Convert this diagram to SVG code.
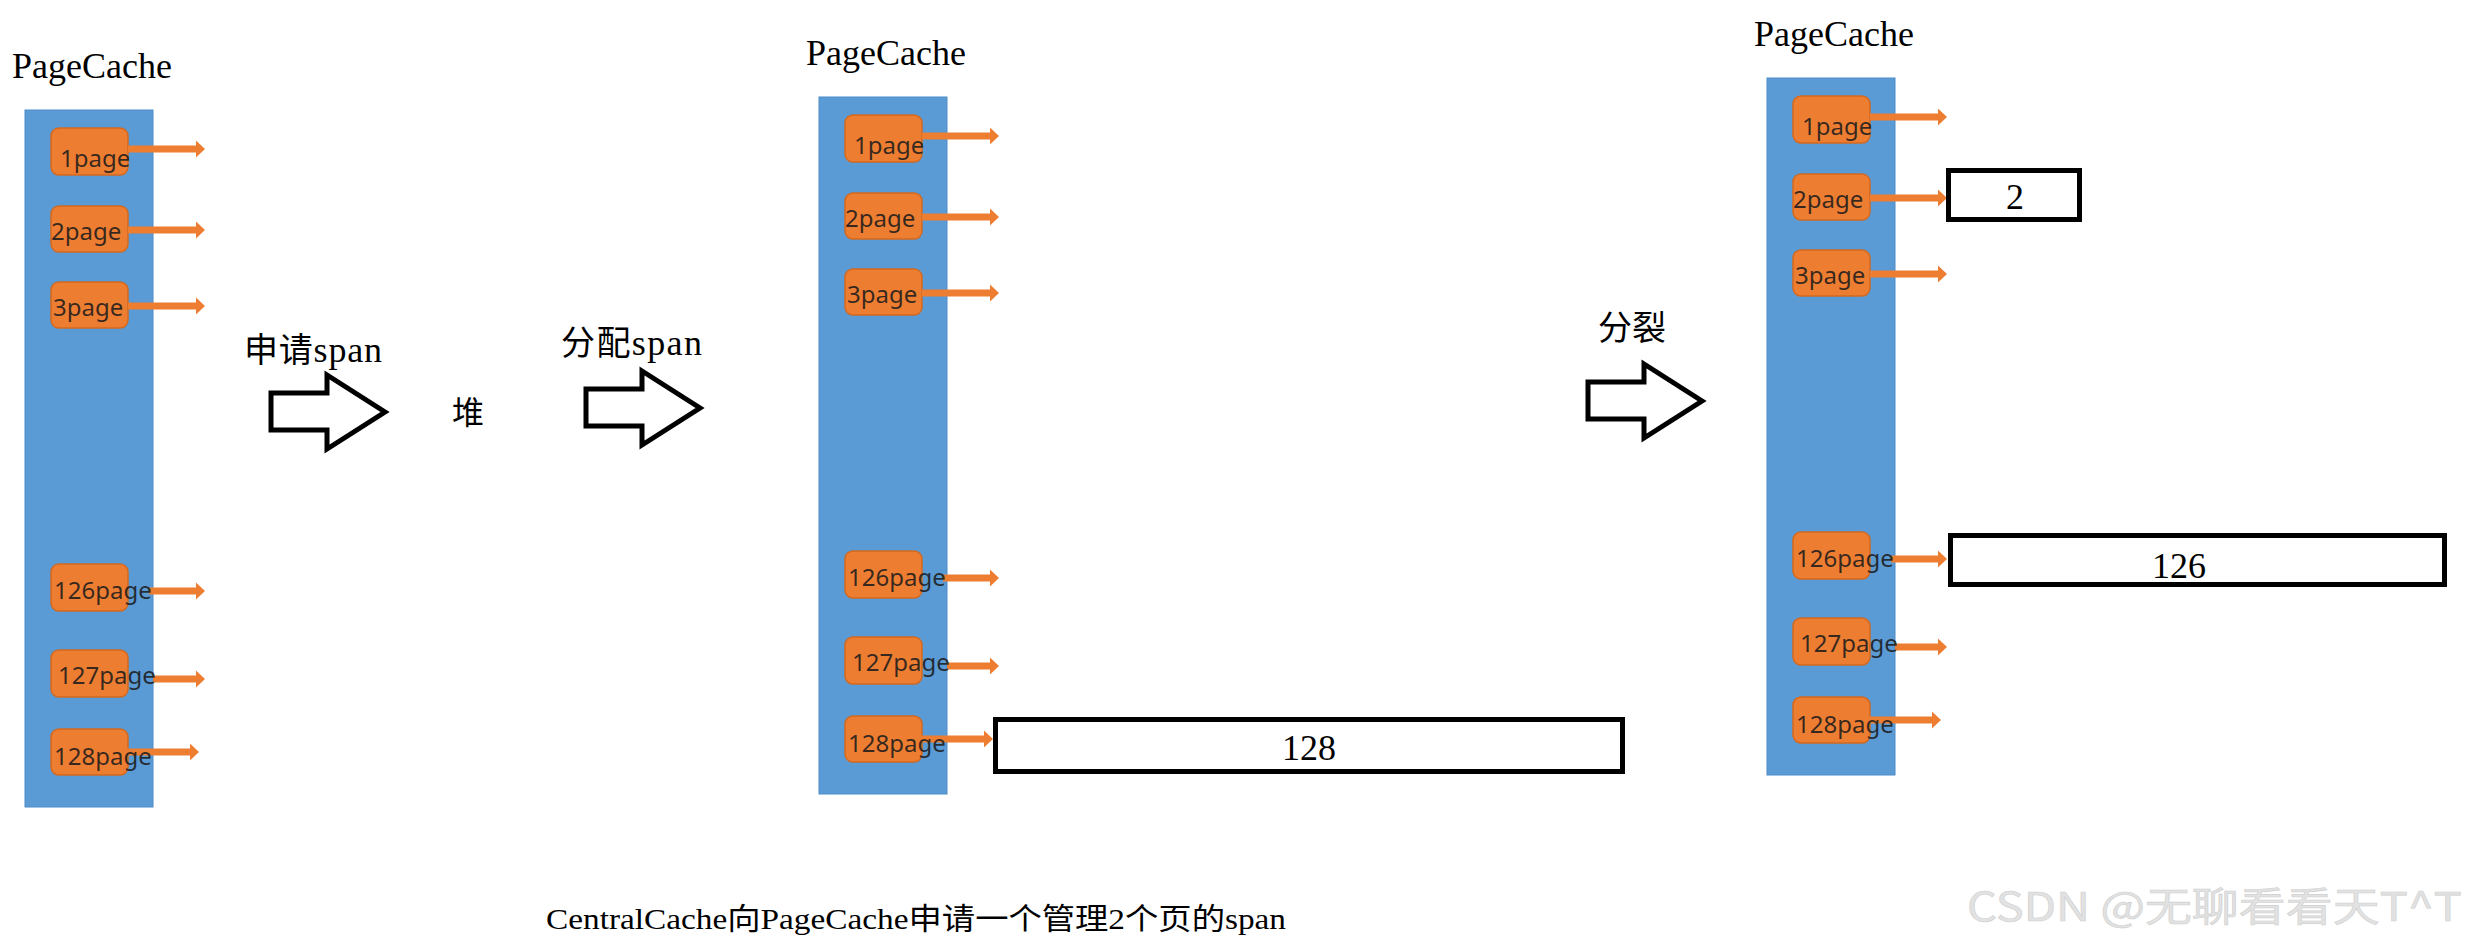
<svg xmlns="http://www.w3.org/2000/svg" xmlns:xlink="http://www.w3.org/1999/xlink" width="2467" height="947" viewBox="0 0 2467 947">
<style>
.title{font-family:"Liberation Serif","Noto Sans CJK SC",serif;font-size:36px;fill:#000}
.lbl{font-family:"Liberation Serif","Noto Sans CJK SC",serif;font-size:34px;fill:#000}
.col{fill:#5B9BD5;stroke:#4F8CC6;stroke-width:1}
.box{fill:#ED7D31;stroke:#D2691F;stroke-width:1.5}
.pt{font-family:"Noto Sans","Open Sans",sans-serif;font-size:24px;fill:#1c1c1c;fill-opacity:0.88}
.oa{stroke:#ED7D31;stroke-width:7;fill:none;marker-end:url(#oh)}
.span{fill:#fff;stroke:#000;stroke-width:5}
.num{font-family:"Liberation Serif",serif;font-size:36px;fill:#000;text-anchor:middle}
.big{fill:#fff;stroke:#000;stroke-width:5;stroke-linejoin:miter}
</style>
<defs>
<marker id="oh" markerUnits="userSpaceOnUse" markerWidth="10" markerHeight="18" viewBox="0 -9 10 18" refX="0" refY="0" orient="auto" overflow="visible">
<path d="M0,-8.5 L9,0 L0,8.5 Z" fill="#ED7D31"/>
</marker>
<path id="bigArrow" d="M0,18 L56,18 L56,0 L114,37 L56,74 L56,55 L0,55 Z"/>
<g id="column">
<rect class="col" x="25" y="110" width="128" height="697"/>
<rect class="box" x="51" y="128" width="77" height="47" rx="8"/>
<rect class="box" x="51" y="206" width="77" height="46" rx="8"/>
<rect class="box" x="51" y="282" width="77" height="46" rx="8"/>
<rect class="box" x="51" y="564" width="77" height="47" rx="8"/>
<rect class="box" x="51" y="650" width="77" height="47" rx="8"/>
<rect class="box" x="51" y="729" width="77" height="46" rx="8"/>
</g>
<g id="rowArrows">
<line class="oa" x1="128" y1="149" x2="196" y2="149"/>
<line class="oa" x1="128" y1="230" x2="196" y2="230"/>
<line class="oa" x1="128" y1="306" x2="196" y2="306"/>
<line class="oa" x1="149" y1="591" x2="196" y2="591"/>
<line class="oa" x1="153" y1="679" x2="196" y2="679"/>
<line class="oa" x1="123" y1="752" x2="190" y2="752"/>
</g>
<g id="rowLabels">
<text class="pt" x="60" y="167">1page</text>
<text class="pt" x="51" y="240">2page</text>
<text class="pt" x="53" y="316">3page</text>
<text class="pt" x="54" y="599">126page</text>
<text class="pt" x="58" y="684">127page</text>
<text class="pt" x="54" y="765">128page</text>
</g>
</defs>

<g id="panel1">
<text class="title" x="12" y="78">PageCache</text>
<use xlink:href="#column"/>
</g>
<g id="panel2" transform="translate(794,-13)">
<text class="title" x="12" y="78">PageCache</text>
<use xlink:href="#column"/>
</g>
<g id="panel3" transform="translate(1742,-32)">
<text class="title" x="12" y="78">PageCache</text>
<use xlink:href="#column"/>
</g>

<g id="connectors">
<use xlink:href="#rowArrows"/>
<use xlink:href="#rowArrows" transform="translate(794,-13)"/>
<use xlink:href="#rowArrows" transform="translate(1742,-32)"/>
<use xlink:href="#bigArrow" class="big" transform="translate(271,375)"/>
<use xlink:href="#bigArrow" class="big" transform="translate(586,371)"/>
<use xlink:href="#bigArrow" class="big" transform="translate(1588,364)"/>
</g>

<g id="labels">
<use xlink:href="#rowLabels"/>
<use xlink:href="#rowLabels" transform="translate(794,-13)"/>
<use xlink:href="#rowLabels" transform="translate(1742,-32)"/>
</g>

<g id="span128">
<rect class="span" x="995.5" y="719.5" width="627" height="52"/>
<text class="num" x="1309" y="760">128</text>
</g>
<g id="span2">
<rect class="span" x="1948.5" y="170.5" width="131" height="49"/>
<text class="num" x="2015" y="209">2</text>
</g>
<g id="span126">
<rect class="span" x="1950.5" y="535.5" width="494" height="49"/>
<text class="num" x="2179" y="578">126</text>
</g>

<g id="captions">
<text class="lbl" x="244" y="362" textLength="138" lengthAdjust="spacing">申请<tspan style="font-size:36px">span</tspan></text>
<text class="lbl" x="452" y="424" style="font-size:32px">堆</text>
<text class="lbl" x="561" y="355" textLength="141" lengthAdjust="spacing">分配<tspan style="font-size:36px">span</tspan></text>
<text class="lbl" x="1598" y="340">分裂</text>
<text x="546" y="929" textLength="740" lengthAdjust="spacingAndGlyphs" style="font-family:'Liberation Serif','Noto Sans CJK SC',serif;font-size:30px;fill:#000">CentralCache向PageCache申请一个管理2个页的span</text>
<text x="1967" y="921" textLength="495" lengthAdjust="spacingAndGlyphs" style="font-family:'Noto Sans CJK SC','Noto Sans',sans-serif;font-size:40px;fill:#e2e2e2;stroke:#d0d0d0;stroke-width:0.6">CSDN @无聊看看天T^T</text>
</g>
</svg>
